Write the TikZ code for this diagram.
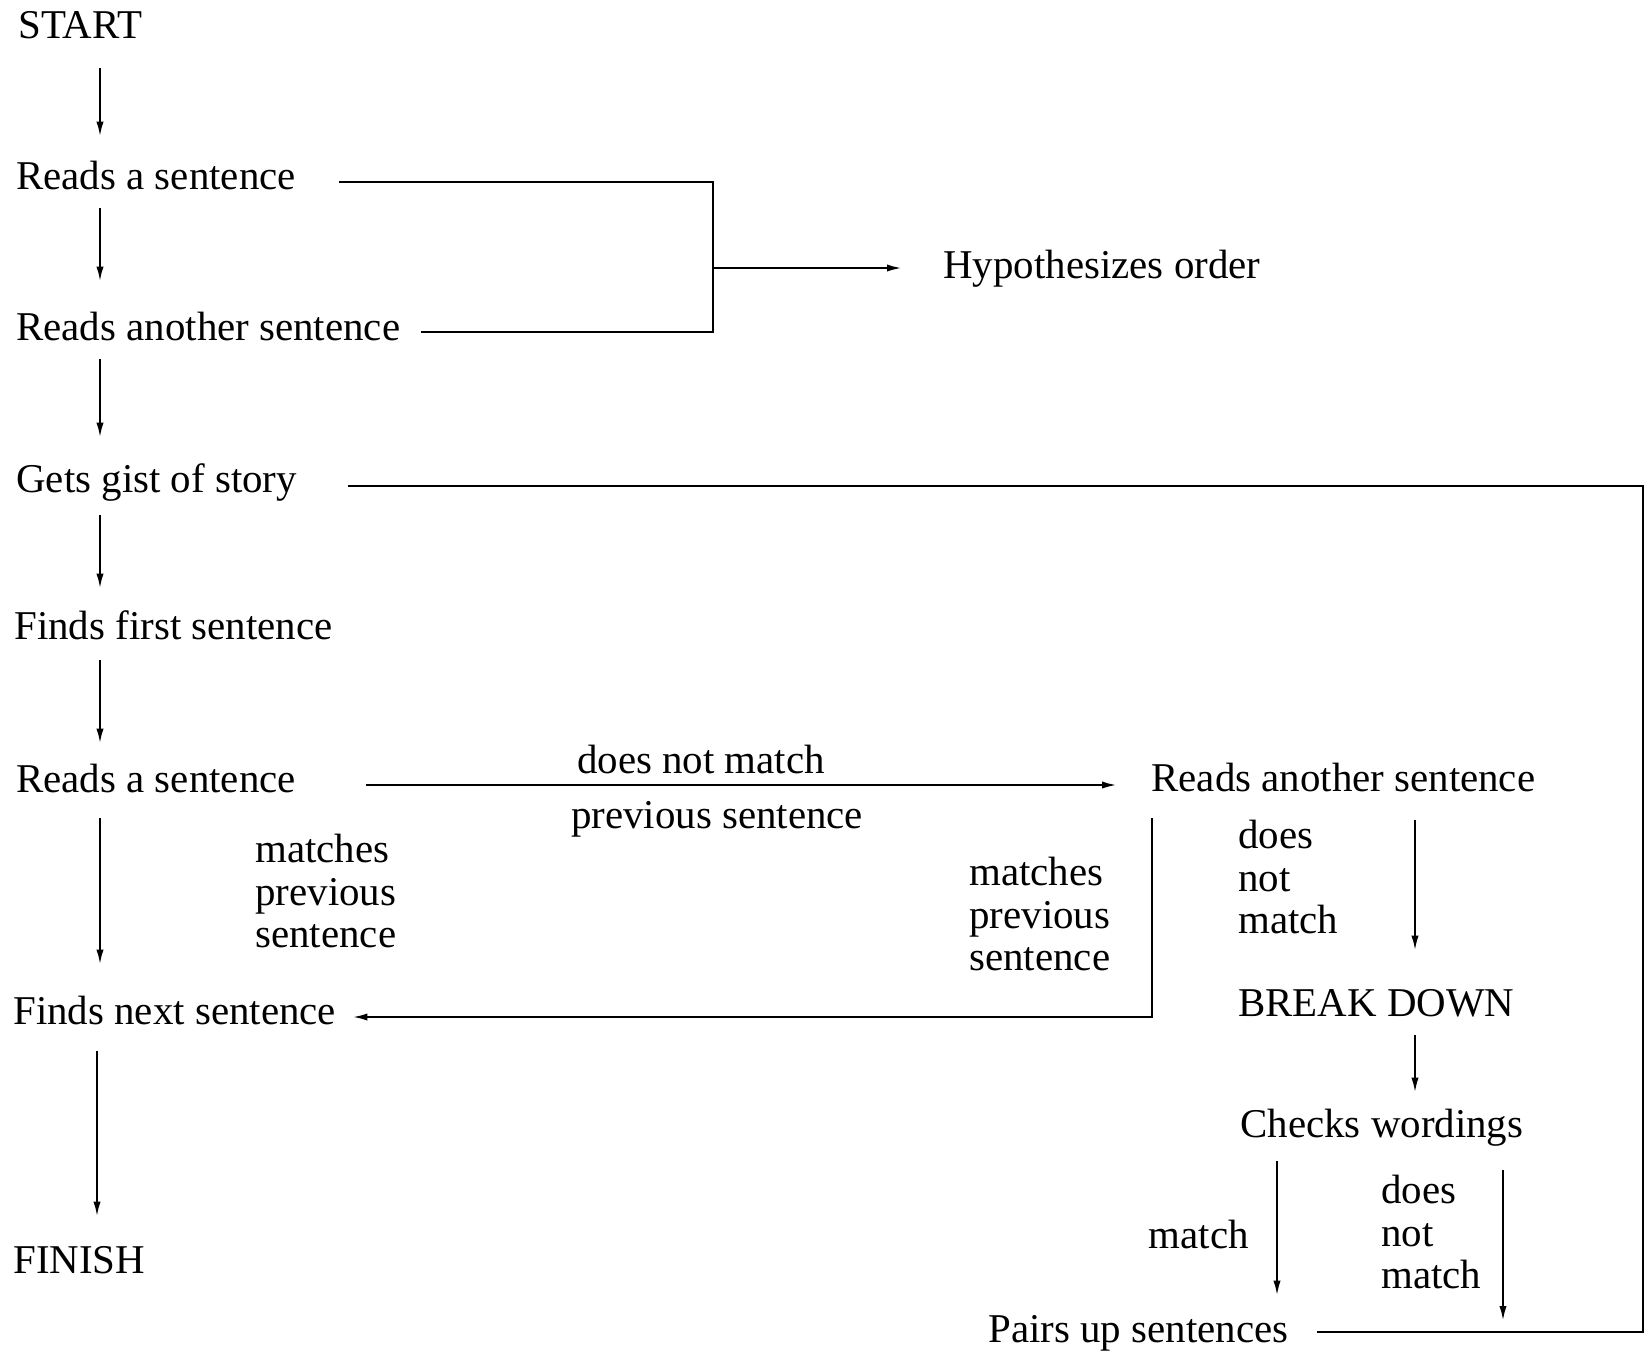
\documentclass[tikz,border=0pt]{standalone}
\usepackage{fontspec}
\setmainfont{Liberation Serif}
\usetikzlibrary{calc,arrows.meta}
\begin{document}
\begin{tikzpicture}[x=0.5pt,y=-0.5pt,
  txt/.style={anchor=west,inner sep=0pt,font=\fontsize{20.45pt}{24pt}\selectfont,
              text height=15.3pt,text depth=5.1pt},
  lbl/.style={inner sep=0pt,font=\fontsize{20.45pt}{21.2pt}\selectfont,align=left},
  ln/.style={line width=1.1pt},
  arr/.style={ln,-{Latex[length=7.5pt,width=3.6pt]}}]
\useasboundingbox (0,0) rectangle (1648,1351);

% main column
\node[txt] (start)  at (18,28)   {START};
\node[txt] (r1)     at (16,179)  {Reads a sentence};
\node[txt] (r2)     at (16,330)  {Reads another sentence};
\node[txt] (hyp)    at (943,268) {Hypothesizes order};
\node[txt] (gist)   at (16,482)  {Gets gist of story};
\node[txt] (first)  at (14,629)  {Finds first sentence};
\node[txt] (r3)     at (16,782)  {Reads a sentence};
\node[txt] (r4)     at (1151,781) {Reads another sentence};
\node[txt] (next)   at (13,1014) {Finds next sentence};
\node[txt] (finish) at (13,1263) {FINISH};
\node[txt] (brk)    at (1238,1006) {BREAK DOWN};
\node[txt] (chk)    at (1240,1127) {Checks wordings};
\node[txt] (pairs)  at (988,1332) {Pairs up sentences};

% branch labels
\node[lbl] (l1) at (701,759) {does not match};
\node[lbl] (l2) at (717,819) {previous sentence};
\node[lbl,anchor=west] (l3) at (255,891) {matches\\previous\\sentence};
\node[lbl,anchor=west] (l4) at (969,914) {matches\\previous\\sentence};
\node[lbl,anchor=west] (l5) at (1238,877) {does\\not\\match};
\node[lbl,anchor=east] (l6) at (1249,1234) {match};
\node[lbl,anchor=west] (l7) at (1381,1232) {does\\not\\match};

% connector columns
\coordinate (sp)  at (100,0);
\coordinate (sp2) at (97,0);
\coordinate (jx)  at (713,0);
\coordinate (rx)  at (1643,0);
\coordinate (bx)  at (1415,0);
\coordinate (mx)  at (1277,0);
\coordinate (dx)  at (1503,0);

% left column arrows
\draw[arr,shorten <=9.75pt,shorten >=10.75pt] (start.south -| sp) -- (r1.north -| sp);
\draw[arr,shorten <=4.25pt,shorten >=13.75pt] (r1.south -| sp) -- (r2.north -| sp);
\draw[arr,shorten <=4.25pt,shorten >=11.75pt] (r2.south -| sp) -- (gist.north -| sp);
\draw[arr,shorten <=6.25pt,shorten >=9.75pt] (gist.south -| sp) -- (first.north -| sp);
\draw[arr,shorten <=5.25pt,shorten >=8.75pt] (first.south -| sp) -- (r3.north -| sp);
\draw[arr,shorten <=7.75pt,shorten >=14.25pt] (r3.south -| sp) -- (next.north -| sp);
\draw[arr,shorten <=8.25pt,shorten >=12.75pt] (next.south -| sp2) -- (finish.north -| sp2);

% two readings join into a hypothesis
\draw[ln] ($(r1.east)+(43,3)$) -- ($(r1.east -| jx)+(0,3)$)
          -- ($(r2.east -| jx)+(0,2)$) -- ($(r2.east)+(20,2)$);
\draw[arr] (hyp.west -| jx) -- ($(hyp.west)+(-41,0)$);

% loop from pairing back to the gist
\draw[ln] ($(gist.east)+(51,4)$) -- ($(gist.east -| rx)+(0,4)$)
          -- (pairs.east -| rx) -- ($(pairs.east)+(28,0)$);

% matching branch
\draw[arr] ($(r3.east)+(70,3)$) -- ($(r4.west |- r3.east)+(-34,3)$);
\draw[arr] ($(r4.south west)+(1,16)$) |- ($(next.east)+(16,3)$);

% break down branch
\draw[arr,shorten <=9.25pt,shorten >=17.25pt] (r4.south -| bx) -- (brk.north -| bx);
\draw[arr,shorten <=4.25pt,shorten >=6.75pt] (brk.south -| bx) -- (chk.north -| bx);
\draw[arr,shorten <=6.75pt,shorten >=7.75pt] (chk.south -| mx) -- (pairs.north -| mx);
\draw[arr,shorten <=11.25pt] (chk.south -| dx) -- ($(pairs.east -| dx)+(0,-11)$);
\end{tikzpicture}
\end{document}
